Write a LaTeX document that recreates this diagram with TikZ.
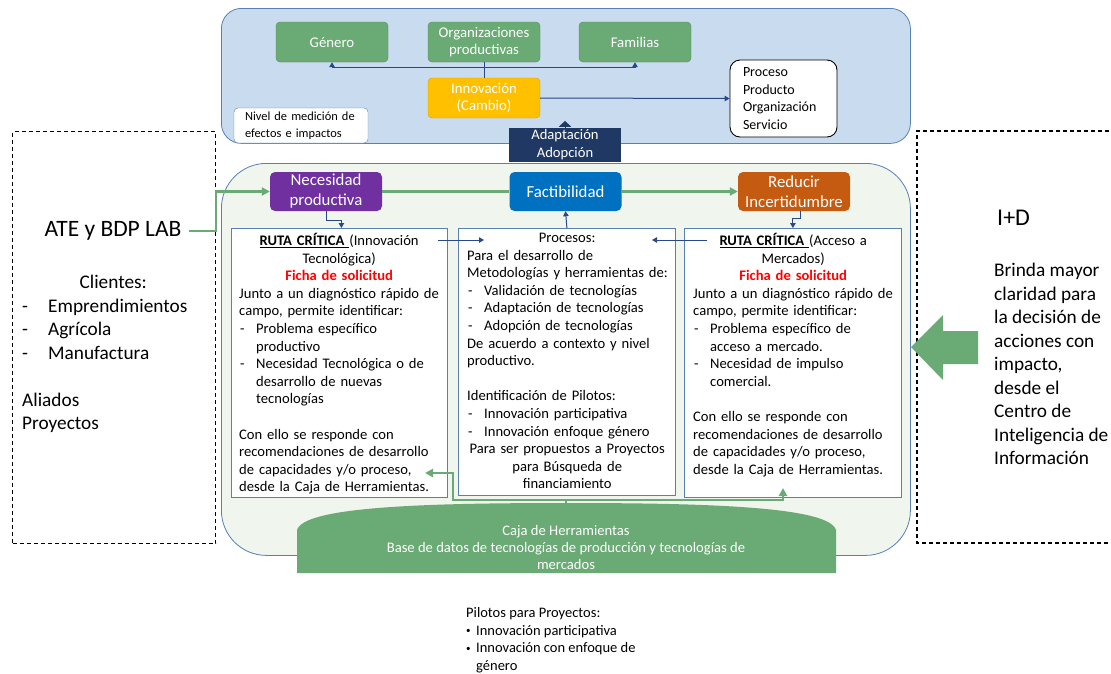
\documentclass[tikz,border=0pt]{standalone}
\usepackage{fontspec}
\setmainfont{Carlito}
\usepackage{xcolor}
\usepackage{tikz}
\usetikzlibrary{calc,shapes,positioning}
\usetikzlibrary{arrows.meta}

\definecolor{panelazul}{RGB}{201,219,239}
\definecolor{bordeazul}{RGB}{88,128,180}
\definecolor{panelverde}{RGB}{240,245,238}
\definecolor{verdecaja}{RGB}{106,170,116}
\definecolor{verdeborde}{RGB}{84,140,96}
\definecolor{amarillo}{RGB}{255,192,0}
\definecolor{marino}{RGB}{31,56,100}
\definecolor{morado}{RGB}{112,48,160}
\definecolor{azulfact}{RGB}{0,112,192}
\definecolor{naranja}{RGB}{197,90,17}
\definecolor{flecha}{RGB}{40,72,135}

\newcommand{\cuerpo}{\fontsize{14.6}{17.6}\selectfont}
\newcommand{\guion}{\makebox[17pt][l]{\hspace{1pt}-}}
\newcommand{\sangria}{\hspace*{17pt}}
\newcommand{\centrado}{\centering\rightskip=12pt plus 1fil\relax}
\newcommand{\vineta}{\makebox[10pt][l]{\raisebox{1.5pt}{\fontsize{9}{9}\selectfont\textbullet}}}

\begin{document}
\begin{tikzpicture}[x=1pt,y=-1pt]
      \tikzstyle{panel} = [draw=bordeazul, line width=0.8pt, anchor=north west, inner sep=0pt]
      \tikzstyle{gnode} = [draw=verdeborde, fill=verdecaja, rounded corners=4pt, minimum width=112pt, minimum height=40pt, text=white, align=center, inner sep=1pt, font=\fontsize{14.8}{17.5}\selectfont]
      \tikzstyle{pnode} = [rounded corners=5pt, minimum width=112pt, minimum height=39pt, text=white, align=center, inner sep=1pt, font=\fontsize{16.8}{20}\selectfont]
      \tikzstyle{tbox} = [draw=bordeazul, fill=white, line width=0.8pt, anchor=north west, inner sep=0pt]
      \tikzstyle{txt} = [anchor=north west, inner sep=0pt, text width=212pt, font=\cuerpo]
      \tikzstyle{flechaazul} = [draw=flecha, line width=1pt, -{Triangle[length=5pt,width=5.5pt]}]
      \tikzstyle{lineaverde} = [draw=verdecaja, line width=2.6pt]
      \tikzstyle{flechaverde} = [lineaverde, -{Triangle[length=8pt,width=8pt]}]
      \tikzstyle{marco} = [draw=black, dashed, line width=1.1pt, dash pattern=on 4pt off 3pt]

      \useasboundingbox (0,0) rectangle (1111,673);

      % paneles
      \node[panel, fill=panelazul, rounded corners=20pt, minimum width=689pt, minimum height=135pt] (medicion) at (221,8) {};
      \node[panel, fill=panelverde, rounded corners=45pt, minimum width=689pt, minimum height=392pt] (laboratorio) at (221,163) {};
      \node[marco, anchor=north west, minimum width=203pt, minimum height=412pt, inner sep=0pt] (atemarco) at (12,131) {};
      \draw[marco] (1116,131) -- (917,131) -- (917,543) -- (1116,543);

      % nivel de medicion
      \node[gnode] (genero) at (332,42) {Género};
      \node[gnode] (organiz) at (484,42) {Organizaciones\\productivas};
      \node[gnode] (familias) at (635,42) {Familias};
      \node[gnode, fill=amarillo, draw=amarillo!85!black] (innovacion) at (484,98) {Innovación\\(Cambio)};
      \node[draw=black, fill=white, rounded corners=10pt, line width=0.9pt, minimum width=107pt, minimum height=77pt, text width=81pt, inner xsep=13pt, align=left, font=\fontsize{14}{17.7}\selectfont] (resultados) at (783.5,98.5) {Proceso\\Producto\\Organización\\Servicio};
      \node[draw=bordeazul, fill=white, rounded corners=4pt, minimum width=134pt, minimum height=35pt, text width=112pt, align=left, font=\fontsize{12.4}{17}\selectfont] (nivel) at (301,125.5) {Nivel de medición de\\efectos e impactos};
      \node[fill=marino, text=white, minimum width=112pt, minimum height=34pt, align=center, inner sep=1pt, font=\fontsize{14.6}{18}\selectfont] (adaptacion) at (565,145) {Adaptación\\Adopción};

      \draw[flechaazul] (innovacion.north) -- ++(0,-10) -| (genero.south);
      \draw[flechaazul] (innovacion.north) -- ++(0,-10) -| (familias.south);
      \draw[draw=flecha, line width=0.8pt] (innovacion.north) -- (organiz.south);
      \draw[flechaazul] (innovacion.east) -- (resultados.west);
      \draw[draw=marino, line width=1pt, -{Triangle[length=6pt,width=12pt]}] (adaptacion.north) -- ++(0,-7);

      % etapas
      \node[pnode, fill=morado] (necesidad) at (326,191.5) {Necesidad\\productiva};
      \node[pnode, fill=azulfact] (factibilidad) at (565.5,191.5) {Factibilidad};
      \node[pnode, fill=naranja] (reducir) at (794,191.5) {Reducir\\Incertidumbre};

      % cajas de texto
      \node[tbox, minimum width=216pt, minimum height=269pt] (rutatec) at (231,228) {};
      \node[tbox, minimum width=217pt, minimum height=267pt] (procesos) at (458,228) {};
      \node[tbox, minimum width=217pt, minimum height=269pt] (rutamer) at (684,228) {};

      \node[txt] (rutatectxt) at ([xshift=8pt,yshift=-5pt]rutatec.north west) {{\centrado\underline{\textbf{RUTA CRÍTICA}~}(Innovación\\Tecnológica)\\\textcolor{red}{\textbf{Ficha de solicitud}}\par}
        \raggedright Junto a un diagnóstico rápido de\\campo, permite identificar:\\\guion Problema específico\\\sangria productivo\\\guion Necesidad Tecnológica o de\\\sangria desarrollo de nuevas\\\sangria tecnologías\\\mbox{}\\Con ello se responde con\\recomendaciones de desarrollo\\de capacidades y/o proceso,\\desde la Caja de Herramientas.};
      \node[txt] (procesostxt) at ([xshift=9pt,yshift=-5pt]procesos.north west) {{\centrado Procesos:\par}
        \raggedright Para el desarrollo de\\Metodologías y herramientas de:\\\guion Validación de tecnologías\\\guion Adaptación de tecnologías\\\guion Adopción de tecnologías\\De acuerdo a contexto y nivel\\productivo.\\\mbox{}\\Identificación de Pilotos:\\\guion Innovación participativa\\\guion Innovación enfoque género\par
        {\centrado Para ser propuestos a Proyectos\\para Búsqueda de\\financiamiento\par}};
      \node[txt] (rutamertxt) at ([xshift=9pt,yshift=-5pt]rutamer.north west) {{\centrado\underline{\textbf{RUTA CRÍTICA}~}(Acceso a\\Mercados)\\\textcolor{red}{\textbf{Ficha de solicitud}}\par}
        \raggedright Junto a un diagnóstico rápido de\\campo, permite identificar:\\\guion Problema específico de\\\sangria acceso a mercado.\\\guion Necesidad de impulso\\\sangria comercial.\\\mbox{}\\Con ello se responde con\\recomendaciones de desarrollo\\de capacidades y/o proceso,\\desde la Caja de Herramientas.};

      \coordinate (saletec) at (438,240);
      \coordinate (entraproc) at (484,240);
      \coordinate (salemer) at (707,240);
      \coordinate (entraproc2) at (652,240);

      \draw[flechaazul] (necesidad.south) -- ++(0,9) -| ([xshift=2pt]rutatec.north);
      \draw[flechaazul] ([xshift=6pt]reducir.south) -- ++(0,7) -| (rutamer.north);
      \draw[flechaazul] (procesos.north) -- (factibilidad.south);
      \draw[flechaazul] (saletec) -- (entraproc);
      \draw[flechaazul] (salemer) -- (entraproc2);

      % ATE y BDP LAB
      \node[font=\fontsize{23.5}{28}\selectfont] (ate) at (113,231) {ATE y BDP LAB};
      \node[anchor=north west, inner sep=0pt, text width=182pt, font=\fontsize{19.3}{23.5}\selectfont] (clientes) at (22,275) {{\centering Clientes:\par}
        \raggedright\makebox[26pt][l]{-}Emprendimientos\\\makebox[26pt][l]{-}Agrícola\\\makebox[26pt][l]{-}Manufactura\\\mbox{}\\Aliados\\Proyectos};

      \draw[flechaverde] ([xshift=4pt]ate.east) -- (atemarco.east |- ate.east) |- (necesidad.west);
      \draw[lineaverde] (necesidad.east) -- (factibilidad.west);
      \draw[flechaverde] (factibilidad.east) -- (reducir.west);

      % caja de herramientas
      \fill[verdecaja] (297,573) -- (297,530) .. controls (304,507) and (420,503) .. (566,503) .. controls (712,503) and (829,507) .. (836,530) -- (836,573) -- cycle;
      \node[text=white, align=center, font=\fontsize{14.6}{17}\selectfont] (caja) at (566,547) {Caja de Herramientas\\Base de datos de tecnologías de producción y tecnologías de\\mercados};
      \coordinate (cajatope) at (566,503);
      \coordinate (capizq) at (425,473);
      \coordinate (capder) at (783,488);
      \draw[flechaverde, line width=2.2pt] (cajatope) -- ++(0,-3) -| ++(-113,-27) -- (capizq);
      \draw[flechaverde, line width=2.2pt] (cajatope) -- ++(0,-3) -| (capder);

      % I+D
      \fill[verdecaja] (911,347) -- (943,315) -- (943,331) -- (978,331) -- (978,364) -- (943,364) -- (943,380) -- cycle;
      \node[anchor=west, inner sep=0pt, font=\fontsize{24}{28}\selectfont] (imasd) at (997,218) {I+D};
      \node[anchor=north west, align=left, inner sep=0pt, font=\fontsize{19.3}{23.5}\selectfont] (brinda) at (994,263) {Brinda mayor\\claridad para\\la decisión de\\acciones con\\impacto,\\desde el\\Centro de\\Inteligencia de\\Información};

      % pilotos
      \node[anchor=north west, align=left, inner sep=0pt, font=\fontsize{14.5}{17.8}\selectfont] (pilotos) at (466,607) {Pilotos para Proyectos:\\\vineta Innovación participativa\\\vineta Innovación con enfoque de\\\hspace*{10pt}género};
\end{tikzpicture}
\end{document}
